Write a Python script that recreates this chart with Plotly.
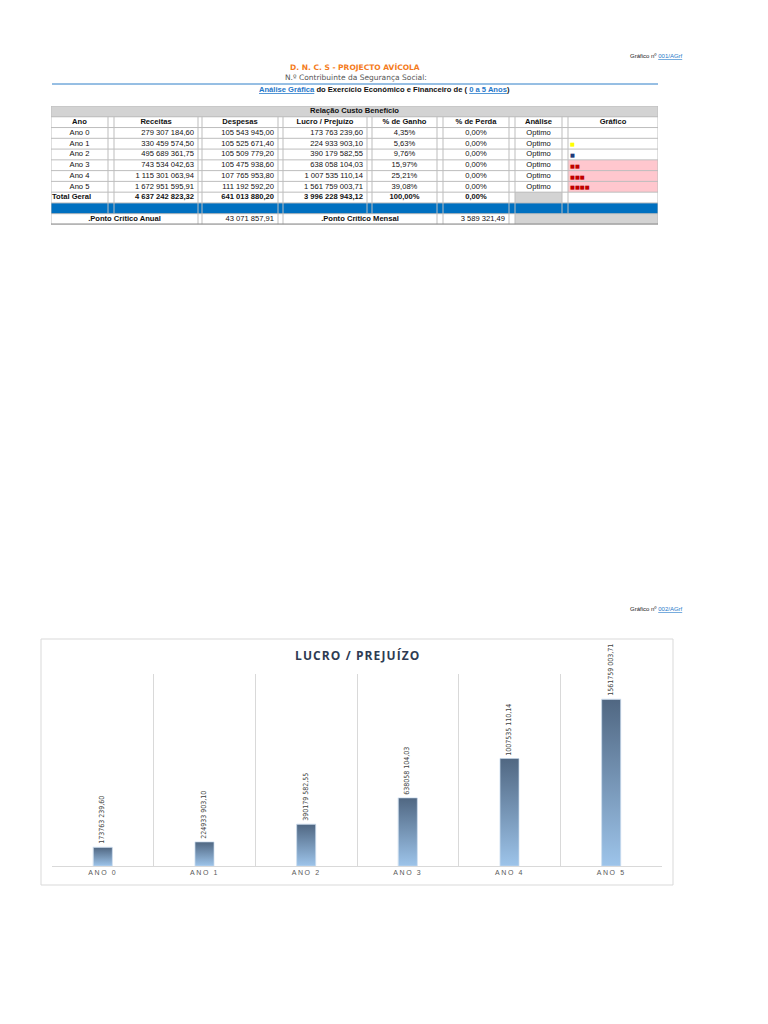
import numpy as np
import plotly.graph_objects as go

W, H = 768, 1024
PAD = 8  # margem do <body> na página
FW, FH = W - 2 * PAD, H - 2 * PAD

# --- tabela "Relação Custo Benefício"
anos = ["Ano 0", "Ano 1", "Ano 2", "Ano 3", "Ano 4", "Ano 5"]
receitas = ["279 307 184,60", "330 459 574,50", "495 689 361,75",
            "743 534 042,63", "1 115 301 063,94", "1 672 951 595,91"]
despesas = ["105 543 945,00", "105 525 671,40", "105 509 779,20",
            "105 475 938,60", "107 765 953,80", "111 192 592,20"]
lucro_txt = ["173 763 239,60", "224 933 903,10", "390 179 582,55",
             "638 058 104,03", "1 007 535 110,14", "1 561 759 003,71"]
pct_ganho = ["4,35%", "5,63%", "9,76%", "15,97%", "25,21%", "39,08%"]
pct_perda = ["0,00%", "0,00%", "0,00%", "0,00%", "0,00%", "0,00%"]
analise = ["Optimo", "Optimo", "Optimo", "Optimo", "Optimo", "Optimo"]
grafico_n = [0, 1, 1, 2, 3, 4]
grafico_cor = ["#ffffff", "#ffff00", "#1f3a7a", "#c00000", "#c00000", "#c00000"]
total_geral = ["Total Geral", "4 637 242 823,32", "641 013 880,20",
               "3 996 228 943,12", "100,00%", "0,00%"]
ponto_anual = "43 071 857,91"
ponto_mensal = "3 589 321,49"
cabecalho = ["Ano", "Receitas", "Despesas", "Lucro / Prejuízo",
             "% de Ganho", "% de Perda", "Análise", "Gráfico"]

# --- gráfico LUCRO / PREJUÍZO
categorias = ["ANO 0", "ANO 1", "ANO 2", "ANO 3", "ANO 4", "ANO 5"]
lucro = [173763239.60, 224933903.10, 390179582.55,
         638058104.03, 1007535110.14, 1561759003.71]
rotulos = ["173763 239,60", "224933 903,10", "390179 582,55",
           "638058 104,03", "1007535 110,14", "1561759 003,71"]


def px(x):
    return (x - PAD) / FW


def py(y):
    return 1 - (y - PAD) / FH


FONT = "Liberation Sans, Arial, sans-serif"
NARROW = "Liberation Sans Narrow, DejaVu Sans Condensed, sans-serif"

fig = go.Figure()

# ---------------- tabela (eixos x2/y2, unidades = pixels de coluna)
col_w = [57, 6, 84, 4, 76, 5, 84, 5, 65, 6, 66, 6, 47, 6, 90]
edges = np.concatenate([[0], np.cumsum(col_w)]).astype(float)
centers = (edges[:-1] + edges[1:]) / 2
n_rows = 11
row_h = 10.77
real_cols = [0, 2, 4, 6, 8, 10, 12, 14]

z = np.zeros((n_rows, len(col_w)))
z[0, :] = 1
z[5:8, 14] = 3
z[8, 12] = 1
z[9, :] = 2
z[10, 12:] = 1
cs = [[0, "#ffffff"], [1 / 6, "#ffffff"], [1 / 6, "#d3d3d3"], [0.5, "#d3d3d3"],
      [0.5, "#0070c0"], [5 / 6, "#0070c0"], [5 / 6, "#ffc7ce"], [1, "#ffc7ce"]]
fig.add_trace(go.Heatmap(z=z, x=edges, y=np.arange(n_rows + 1), zmin=0, zmax=3,
                         colorscale=cs, showscale=False, hoverinfo="skip",
                         xaxis="x2", yaxis="y2"))

# linhas da grelha
lx, ly = [], []
for r in range(n_rows + 1):
    lx += [edges[0], edges[-1], None]
    ly += [r, r, None]
merged_ponto = {57, 63, 316, 321, 511, 517}
for e in edges:
    for r in range(n_rows):
        if r == 0 and e not in (edges[0], edges[-1]):
            continue
        if r == 10 and int(e) in merged_ponto:
            continue
        lx += [e, e, None]
        ly += [r, r + 1, None]
fig.add_trace(go.Scatter(x=lx, y=ly, mode="lines", line=dict(color="#bdbdbd", width=1),
                         hoverinfo="skip", cliponaxis=False, xaxis="x2", yaxis="y2"))
fig.add_trace(go.Scatter(x=[edges[0], edges[-1]], y=[n_rows, n_rows], mode="lines",
                         line=dict(color="#8c8c8c", width=2), hoverinfo="skip",
                         cliponaxis=False, xaxis="x2", yaxis="y2"))

tx, ty, tt, tp = [], [], [], []


def put(x, y, txt, pos="middle center"):
    tx.append(x)
    ty.append(y)
    tt.append(txt)
    tp.append(pos)


put((edges[0] + edges[-1]) / 2, 0.5, "<b>Relação Custo Benefício</b>")
for c, h in zip(real_cols, cabecalho):
    put(centers[c], 1.5, f"<b>{h}</b>")
for i in range(len(anos)):
    y = 2.5 + i
    put(centers[0], y, anos[i])
    put(edges[3] - 4, y, receitas[i], "middle left")
    put(edges[5] - 4, y, despesas[i], "middle left")
    put(edges[7] - 4, y, lucro_txt[i], "middle left")
    put(centers[8], y, pct_ganho[i])
    put(centers[10], y, pct_perda[i])
    put(centers[12], y, analise[i])
put(edges[0] + 1, 8.5, f"<b>{total_geral[0]}</b>", "middle right")
put(edges[3] - 4, 8.5, f"<b>{total_geral[1]}</b>", "middle left")
put(edges[5] - 4, 8.5, f"<b>{total_geral[2]}</b>", "middle left")
put(edges[7] - 4, 8.5, f"<b>{total_geral[3]}</b>", "middle left")
put(centers[8], 8.5, f"<b>{total_geral[4]}</b>")
put(centers[10], 8.5, f"<b>{total_geral[5]}</b>")
put((edges[0] + edges[3]) / 2, 10.5, "<b>.Ponto Crítico Anual</b>")
put(edges[5] - 4, 10.5, ponto_anual, "middle left")
put((edges[6] + edges[9]) / 2, 10.5, "<b>.Ponto Crítico Mensal</b>")
put(edges[11] - 4, 10.5, ponto_mensal, "middle left")

fig.add_trace(go.Scatter(x=tx, y=ty, text=tt, mode="text", textposition=tp,
                         textfont=dict(size=7.6, color="#111111", family=FONT),
                         hoverinfo="skip", cliponaxis=False, xaxis="x2", yaxis="y2"))

# quadradinhos da coluna "Gráfico"
sq_rows = [i for i in range(len(anos)) if grafico_n[i]]
fig.add_trace(go.Scatter(
    x=[edges[14] + 2] * len(sq_rows), y=[2.62 + i for i in sq_rows],
    text=["■" * grafico_n[i] for i in sq_rows], mode="text", textposition="middle right",
    textfont=dict(size=5.2, color=[grafico_cor[i] for i in sq_rows], family="DejaVu Sans"),
    hoverinfo="skip", cliponaxis=False, xaxis="x2", yaxis="y2"))

# ---------------- gráfico de barras
hw = 0.093
xpos = list(range(len(categorias)))
fig.add_trace(go.Bar(x=xpos, y=lucro, width=2 * hw, marker_color="rgba(0,0,0,0)",
                     text=rotulos, textposition="outside", textangle=-90,
                     constraintext="none", cliponaxis=False,
                     textfont=dict(size=7, color="#404040", family=NARROW),
                     hoverinfo="skip"))
for i, v in zip(xpos, lucro):
    fig.add_trace(go.Scatter(
        x=[i - hw, i + hw, i + hw, i - hw, i - hw], y=[0, 0, v, v, 0],
        fill="toself", mode="lines", line=dict(width=0.6, color="#c9dcee"),
        fillgradient=dict(type="vertical", colorscale=[[0, "#9dc4ea"], [1, "#506782"]]),
        hoverinfo="skip"))

ticktext = ['<span style="letter-spacing:1.6px">%s</span>' % c for c in categorias]
fig.update_layout(
    width=FW, height=FH, margin=dict(l=0, r=0, t=0, b=0),
    paper_bgcolor="white", plot_bgcolor="white", showlegend=False,
    bargap=0,
    xaxis=dict(domain=[px(52), px(662)], range=[-0.5, 5.5], tickvals=xpos,
               ticktext=ticktext, showgrid=False, zeroline=False,
               showline=True, linecolor="#d9d9d9", ticks="",
               tickfont=dict(size=7, color="#595959", family=FONT),
               minor=dict(tickvals=[k - 0.5 for k in range(len(categorias) + 1)],
                          showgrid=True, gridcolor="#d9d9d9", gridwidth=1, ticks=""),
               fixedrange=True),
    yaxis=dict(domain=[py(866), py(674)], range=[0, 1.8e9], visible=False,
               showgrid=False, zeroline=False, fixedrange=True),
    xaxis2=dict(domain=[px(51), px(51 + edges[-1])], range=[edges[0], edges[-1]],
                visible=False, fixedrange=True, anchor="y2"),
    yaxis2=dict(domain=[py(106 + row_h * n_rows), py(106)], range=[n_rows, 0],
                visible=False, fixedrange=True, anchor="x2"),
)

blue = "#1f77c9"
ann = [
    dict(x=px(685), y=py(56), xanchor="right",
         text='Gráfico nº <span style="text-decoration:underline;fill:%s">001/AGrf</span>' % blue,
         font=dict(size=6, color="#222222", family=FONT)),
    dict(x=px(355), y=py(67.5), xanchor="center",
         text="<b>D. N. C. S - PROJECTO AVÍCOLA</b>",
         font=dict(size=7.5, color="#f47b20", family="DejaVu Sans, sans-serif")),
    dict(x=px(356), y=py(78), xanchor="center",
         text="N.º Contribuinte da Segurança Social:",
         font=dict(size=7.5, color="#555555", family="DejaVu Sans, sans-serif")),
    dict(x=px(384), y=py(89.5), xanchor="center",
         text=('<b><span style="text-decoration:underline;fill:%s">Análise Gráfica</span> '
               'do Exercício Económico e Financeiro de ( '
               '<span style="text-decoration:underline;fill:%s">0 a 5 Anos</span>)</b>') % (blue, blue),
         font=dict(size=7.6, color="#111111", family=FONT)),
    dict(x=px(685), y=py(609), xanchor="right",
         text='Gráfico nº <span style="text-decoration:underline;fill:%s">002/AGrf</span>' % blue,
         font=dict(size=6, color="#222222", family=FONT)),
    dict(x=px(357), y=py(655), xanchor="center",
         text='<span style="letter-spacing:1.1px"><b>LUCRO / PREJUÍZO</b></span>',
         font=dict(size=12, color="#2e3b52", family="Open Sans, sans-serif")),
]
for a in ann:
    a.update(xref="paper", yref="paper", yanchor="middle", showarrow=False)
fig.update_layout(annotations=ann)

fig.update_layout(shapes=[
    dict(type="line", xref="paper", yref="paper", x0=px(52), x1=px(658),
         y0=py(84), y1=py(84), line=dict(color="#2f7fc8", width=1)),
    dict(type="rect", xref="paper", yref="paper", x0=px(41), x1=px(673),
         y0=py(885), y1=py(639), line=dict(color="#d9d9d9", width=1)),
])

fig.write_html("out.html")
